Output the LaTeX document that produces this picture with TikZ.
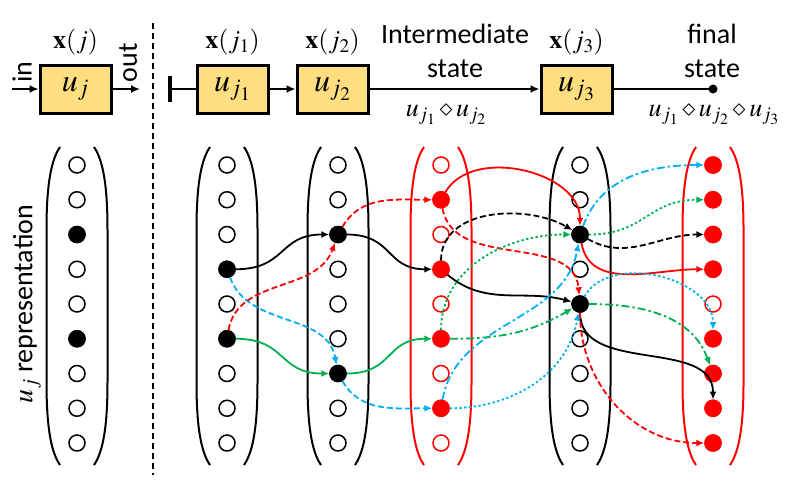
\documentclass[tikz,border=0pt]{standalone}
\usepackage{mathptmx}
\usepackage[no-math]{fontspec}
\setmainfont{Carlito}
\usetikzlibrary{arrows.meta,positioning}
\definecolor{boxfill}{RGB}{255,222,128}
\definecolor{myblue}{RGB}{0,176,240}
\definecolor{mygreen}{RGB}{0,176,80}
\begin{document}
\begin{tikzpicture}[x=1pt,y=1pt,
    box/.style={rectangle, draw, line width=3pt, fill=boxfill, minimum width=71pt, minimum height=48pt, inner sep=0pt, font=\fontsize{32}{34}\selectfont},
    lbl/.style={inner sep=0pt, font=\fontsize{26}{28}\selectfont},
    txt/.style={inner sep=0pt, align=center, font=\fontsize{28}{34}\selectfont},
    wire/.style={line width=2.5pt},
    tip/.style={-{Latex[length=9pt,width=8pt]}},
    dot/.style={circle, draw=#1, line width=1.5pt, fill=white, minimum size=16pt, inner sep=0pt},
    col/.style={line width=2pt},
    link/.style={line width=1.8pt, -{Latex[length=8pt,width=7pt]}},
    dsh/.style={dash pattern=on 6pt off 3pt},
    dtt/.style={dash pattern=on 2.4pt off 2.4pt},
    dshdt/.style={dash pattern=on 8pt off 3pt on 2.4pt off 3pt}
]
    \useasboundingbox (0,0) rectangle (791,-496);

    % top row
    \node [box] (b0) at (75.5,-89) {$u_j$};
    \node [box] (b1) at (232.5,-89) {$u_{j_1}$};
    \node [box] (b2) at (332.5,-89) {$u_{j_2}$};
    \node [box] (b3) at (576.5,-89) {$u_{j_3}$};
    \node [lbl, above=8pt of b0] (x0) {$\mathbf{x}(j)$};
    \node [lbl, above=8pt of b1] (x1) {$\mathbf{x}(j_1)$};
    \node [lbl, above=8pt of b2] (x2) {$\mathbf{x}(j_2)$};
    \node [lbl, above=8pt of b3] (x3) {$\mathbf{x}(j_3)$};
    \coordinate (in) at (12,-89);
    \coordinate (out) at (140,-89);
    \coordinate (start) at (168,-89);
    \coordinate (fin) at (713,-89);
    \node [txt, rotate=90] (inlbl) at (22,-72) {in};
    \node [txt, rotate=90] (outlbl) at (128,-63) {out};
    \node [txt, anchor=south] (inter) at (455,-78) {Intermediate\\state};
    \node [txt, anchor=south] (final) at (712,-78) {final\\state};
    \node [lbl] (f1) at (446,-115) {$u_{j_1}\diamond u_{j_2}$};
    \node [lbl] (f2) at (714,-115) {$u_{j_1}\diamond u_{j_2}\diamond u_{j_3}$};
    \draw [wire, tip] (in) -- (b0);
    \draw [wire, tip] (b0) -- (out);
    \draw [wire, {Bar[width=26pt,line width=4pt]}-] (start) -- (b1);
    \draw [wire, tip] (b1) -- (b2);
    \draw [wire, tip] (b2) -- (b3);
    \draw [wire] (b3) -- (fin);
    \fill (fin) circle[radius=4.5];

    \draw [line width=2pt, dash pattern=on 6pt off 4pt] (153,-23) -- (153,-475);
    \node [txt, rotate=90] (rep) at (27,-304) {$u_j$ representation};

    % columns
    \foreach \x/\clr in {77/black,227/black,338/black,441/red,580/black,713/red}{
        \draw [col, \clr] (\x-17,-147) .. controls (\x-26,-160) and (\x-30.5,-185) .. (\x-30.5,-230)
            -- (\x-30.5,-382) .. controls (\x-30.5,-427) and (\x-26,-452) .. (\x-17,-465);
        \draw [col, \clr] (\x+17,-147) .. controls (\x+26,-160) and (\x+30.5,-185) .. (\x+30.5,-230)
            -- (\x+30.5,-382) .. controls (\x+30.5,-427) and (\x+26,-452) .. (\x+17,-465);
    }
    \foreach \c/\x/\clr in {0/77/black,1/227/black,2/338/black,3/441/red,4/580/black,5/713/red}
        \foreach \r in {1,...,9}
            \node [dot=\clr] (c\c r\r) at (\x,{-165-34.75*(\r-1)}) {};
    \foreach \n in {c0r3,c0r6,c1r4,c1r6,c2r3,c2r7,c4r3,c4r5}
        \fill (\n) circle[radius=8.75];
    \foreach \n in {c3r2,c3r4,c3r6,c3r8,c5r1,c5r2,c5r3,c5r4,c5r6,c5r7,c5r8,c5r9}
        \fill [red] (\n) circle[radius=8.75];

    % first step
    \draw [link] (c1r4) to[out=0,in=180,looseness=1.3] (c2r3);
    \draw [link, myblue, dsh] (c1r4) to[out=-70,in=100] (c2r7);
    \draw [link, red, dsh] (c1r6) to[out=80,in=-110] (c2r3);
    \draw [link, mygreen] (c1r6) to[out=0,in=180,looseness=1.3] (c2r7);
    % second step
    \draw [link, red, dsh] (c2r3) to[out=60,in=180] (c3r2);
    \draw [link] (c2r3) to[out=0,in=180,looseness=1.3] (c3r4);
    \draw [link, mygreen] (c2r7) to[out=0,in=180,looseness=1.3] (c3r6);
    \draw [link, myblue, dsh] (c2r7) to[out=-60,in=180] (c3r8);
    % third step
    \draw [link, red] (c3r2) to[out=60,in=90] (c4r3);
    \draw [link, red, dsh] (c3r2) to[out=-80,in=95] (c4r5);
    \draw [link, dsh] (c3r4) to[out=90,in=150] (c4r3);
    \draw [link] (c3r4) to[out=-40,in=165] (c4r5);
    \draw [link, mygreen, dtt] (c3r6) to[out=90,in=180] (c4r3);
    \draw [link, mygreen, dshdt] (c3r6) to[out=0,in=-150] (c4r5);
    \draw [link, myblue, dshdt] (c3r8) to[out=80,in=-100] (c4r3);
    \draw [link, myblue, dtt] (c3r8) to[out=0,in=-100] (c4r5);
    % final step
    \draw [link, myblue, dshdt] (c4r3) to[out=70,in=180] (c5r1);
    \draw [link, mygreen, dtt] (c4r3) to[out=0,in=180,looseness=1.2] (c5r2);
    \draw [link, dsh] (c4r3) to[out=-30,in=180] (c5r3);
    \draw [link, red] (c4r3) to[out=-80,in=180] (c5r4);
    \draw [link, myblue, dtt] (c4r5) to[out=60,in=90] (c5r6);
    \draw [link, mygreen, dshdt] (c4r5) to[out=0,in=110] (c5r7);
    \draw [link] (c4r5) to[out=-90,in=90] (c5r8);
    \draw [link, red, dsh] (c4r5) to[out=-90,in=180] (c5r9);
\end{tikzpicture}
\end{document}
